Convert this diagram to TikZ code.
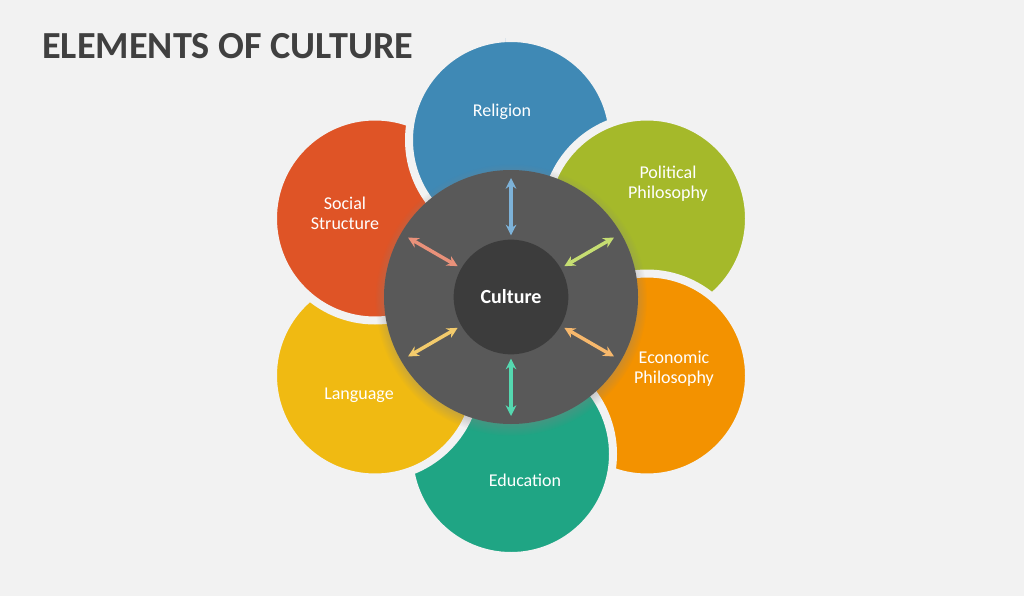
\documentclass[tikz,border=0pt]{standalone}
\usepackage{fontspec}
\setmainfont{Carlito}
\usetikzlibrary{arrows.meta, shadows, calc}

\definecolor{bgcol}{HTML}{F2F2F2}
\definecolor{titlegray}{HTML}{404040}
\definecolor{hubgray}{HTML}{595959}
\definecolor{coregray}{HTML}{3C3C3C}
\definecolor{relblue}{HTML}{3F89B5}
\definecolor{polgreen}{HTML}{A5B92A}
\definecolor{ecoorange}{HTML}{F39200}
\definecolor{eduteal}{HTML}{1FA584}
\definecolor{lanyellow}{HTML}{F0BA12}
\definecolor{socred}{HTML}{DF5426}
\definecolor{relarrow}{HTML}{7DB2D8}
\definecolor{polarrow}{HTML}{C6DE72}
\definecolor{ecoarrow}{HTML}{F7B86C}
\definecolor{eduarrow}{HTML}{55D8B0}
\definecolor{lanarrow}{HTML}{F3CB6C}
\definecolor{socarrow}{HTML}{E9917A}

\begin{document}
\begin{tikzpicture}[
  x=0.75pt, y=-0.75pt,
  petal/.style={circle, draw=bgcol, line width=6pt, minimum size=153pt, inner sep=0pt},
  hub/.style={circle, fill=hubgray, minimum size=190.5pt, inner sep=0pt,
    circular drop shadow={shadow xshift=0pt, shadow yshift=-2pt, shadow scale=1.07, opacity=0.6}},
  core/.style={circle, fill=coregray, minimum size=86pt, inner sep=0pt, text=white,
    font=\fontsize{15}{18}\selectfont\bfseries},
  lbl/.style={text=white, align=center, inner sep=0pt, font=\fontsize{13.5}{15}\selectfont},
  arrow/.style={{Stealth[length=8pt, width=8pt]}-{Stealth[length=8pt, width=8pt]}, line width=2.6pt},
]
% Background
\fill[bgcol] (0,0) rectangle (1024,596);
\useasboundingbox (0,0) rectangle (1024,596);

% Title
\node[anchor=west, inner sep=0pt, text=titlegray, font=\fontsize{28.7}{34}\selectfont\bfseries] (title) at (42,46) {ELEMENTS OF CULTURE};

% Petals, each one over the one before it
\node[petal, fill=relblue] (religion) at (511,140) {};
\node[petal, fill=polgreen] (political) at (647,218.5) {};
\node[petal, fill=ecoorange] (economic) at (647,375.5) {};
\node[petal, fill=eduteal] (education) at (511,454) {};
\node[petal, fill=lanyellow] (language) at (375,375.5) {};
\node[petal, fill=socred] (social) at (375,218.5) {};

% Religion closes the ring over Social Structure
\begin{scope}
  \clip (0,0) rectangle (505,300);
  \node[petal, fill=relblue] (religion-over) at (511,140) {};
\end{scope}

% Hub and core
\node[hub] (hub) at (511,297) {};
\node[core] (culture) at (511,297) {Culture};

% Arrow ends on the hub
\coordinate (religion-a) at (511,178);
\coordinate (political-a) at (614,237.5);
\coordinate (economic-a) at (614,356.5);
\coordinate (education-a) at (511,416);
\coordinate (language-a) at (408,356.5);
\coordinate (social-a) at (408,237.5);

% Arrows
\draw[arrow, relarrow, shorten <=3pt] (culture) -- (religion-a);
\draw[arrow, polarrow, shorten <=3pt] (culture) -- (political-a);
\draw[arrow, ecoarrow, shorten <=3pt] (culture) -- (economic-a);
\draw[arrow, eduarrow, shorten <=3pt] (culture) -- (education-a);
\draw[arrow, lanarrow, shorten <=3pt] (culture) -- (language-a);
\draw[arrow, socarrow, shorten <=3pt] (culture) -- (social-a);

% Labels
\node[lbl] (religion-t) at (502,112) {Religion};
\node[lbl] (political-t) at (668,184) {Political\\Philosophy};
\node[lbl] (economic-t) at (674,369) {Economic\\Philosophy};
\node[lbl] (education-t) at (525,480) {Education};
\node[lbl] (language-t) at (359,395) {Language};
\node[lbl] (social-t) at (345,213) {Social\\Structure};
\end{tikzpicture}
\end{document}
